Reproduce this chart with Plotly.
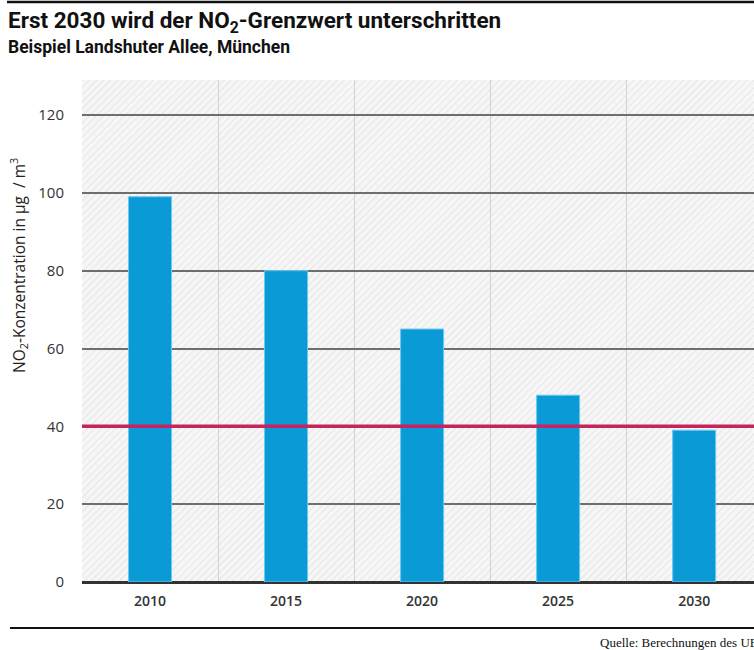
import base64
import plotly.graph_objects as go

# ---- data ----
years = [2010, 2015, 2020, 2025, 2030]
no2_values = [99, 80, 65, 48, 39]
grenzwert = 40
y_ticks = [0, 20, 40, 60, 80, 100, 120]

title_text = "Erst 2030 wird der NO<sub>2</sub>-Grenzwert unterschritten"
subtitle_text = "Beispiel Landshuter Allee, München"
y_title = "NO<sub>2</sub>-Konzentration in µg  / m<sup>3</sup>"
source_text = "Quelle: Berechnungen des UBA"

# ---- layout geometry (pixels) ----
W, H = 754, 650
ML, MR, MT, MB = 82, 0, 80, 68
PW, PH = W - ML - MR, H - MT - MB


def px_x(px):
    return (px - ML) / PW


def px_y(py):
    return (H - MB - py) / PH


# hatched background as an svg image
svg = f'''<svg xmlns="http://www.w3.org/2000/svg" width="{PW}" height="{PH}">
<defs><pattern id="h" patternUnits="userSpaceOnUse" width="5" height="5" patternTransform="rotate(45)">
<rect width="5" height="5" fill="#f6f6f6"/><line x1="0" y1="0" x2="0" y2="5" stroke="#e6e6e6" stroke-width="2"/>
</pattern></defs><rect width="{PW}" height="{PH}" fill="url(#h)"/></svg>'''
hatch_src = "data:image/svg+xml;base64," + base64.b64encode(svg.encode()).decode()

head_font = "Roboto, sans-serif"

fig = go.Figure()
fig.add_trace(go.Bar(
    x=years, y=no2_values, width=1.58,
    marker=dict(color="#0a9ad6", line=dict(color="#6cc8ef", width=1)),
    hoverinfo="x+y", showlegend=False,
))

fig.update_layout(
    width=W, height=H,
    margin=dict(l=ML, r=MR, t=MT, b=MB, pad=0),
    paper_bgcolor="white", plot_bgcolor="#f6f6f6",
    showlegend=False,
    font=dict(family="Open Sans, sans-serif", color="#333"),
    xaxis=dict(
        range=[2007.5, 2032.2], tickvals=years, ticktext=[str(y) for y in years],
        showgrid=False, zeroline=False, showline=False, ticks="",
        tickfont=dict(size=14, color="#333", family="Open Sans, sans-serif", weight=600),
        ticklabelstandoff=9,
        minor=dict(tick0=2012.5, dtick=5, showgrid=True, gridcolor="#d2d2d2", gridwidth=1, ticks=""),
    ),
    yaxis=dict(
        range=[0, 129], tickvals=y_ticks, showgrid=True, gridcolor="#6e6e6e", gridwidth=2,
        zeroline=True, zerolinecolor="#333", zerolinewidth=2.5, showline=False, ticks="",
        tickfont=dict(size=15, color="#333", family="Open Sans, sans-serif"),
        ticklabelstandoff=17,
    ),
    images=[dict(source=hatch_src, xref="paper", yref="paper", x=0, y=1, sizex=1, sizey=1,
                 xanchor="left", yanchor="top", sizing="stretch", layer="below")],
    shapes=[
        dict(type="line", xref="paper", yref="y", x0=0, x1=1, y0=grenzwert, y1=grenzwert,
             line=dict(color="#c8235c", width=3.5), layer="above"),
        dict(type="line", xref="paper", yref="paper", x0=px_x(7), x1=px_x(760), y0=px_y(2), y1=px_y(2),
             line=dict(color="#111", width=2.5)),
        dict(type="line", xref="paper", yref="paper", x0=px_x(10), x1=px_x(760), y0=px_y(628), y1=px_y(628),
             line=dict(color="#111", width=2)),
    ],
    annotations=[
        dict(text="<b>" + title_text + "</b>", xref="paper", yref="paper", x=px_x(6), y=px_y(22),
             xanchor="left", yanchor="middle", showarrow=False,
             font=dict(size=22.5, color="#111", family=head_font)),
        dict(text="<b>" + subtitle_text + "</b>", xref="paper", yref="paper", x=px_x(6), y=px_y(47),
             xanchor="left", yanchor="middle", showarrow=False,
             font=dict(size=17.5, color="#111", family=head_font)),
        dict(text=y_title, xref="paper", yref="paper", x=px_x(18), y=px_y(266), textangle=-90,
             xanchor="center", yanchor="middle", showarrow=False,
             font=dict(size=15.5, color="#222", family="Open Sans, sans-serif")),
        dict(text=source_text, xref="paper", yref="paper", x=px_x(598), y=px_y(642),
             xanchor="left", yanchor="middle", showarrow=False,
             font=dict(size=13, color="#111", family="Liberation Serif, DejaVu Serif, serif")),
    ],
)

fig.write_html("out.html", post_script="document.body.style.margin='0';",
               config={"displayModeBar": False})
